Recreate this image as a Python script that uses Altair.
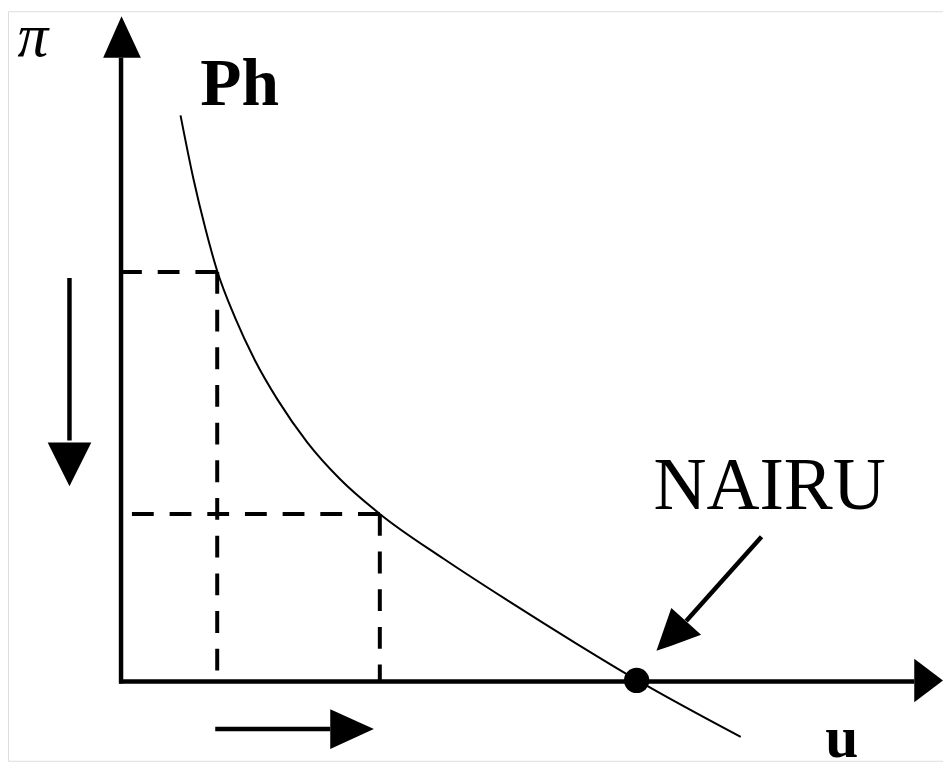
import altair as alt
import pandas as pd

# Diagram units: u = unemployment (x), pi = inflation (y); origin at the axes' corner.
curve_u = [60, 73, 85, 97, 115, 135, 158, 188, 221, 261, 325, 391, 458, 521, 625]
curve_pi = [571, 507, 457, 414, 367, 324, 284, 241, 204, 169, 124, 81, 39, 1, -56]

# dashed guide lines (corner on the curve -> axis)
guide_u = [97, 261]
guide_pi = [413, 169]
axis_stub = -5

# arrow shafts: (u, pi) -> (u2, pi2)
shaft_u = [0, -2, -52, 95, 646]
shaft_pi = [-2, 0, 407, -48, 146]
shaft_u2 = [0, 800, -52, 211, 570]
shaft_pi2 = [629, 0, 243, -48, 61]

# arrow heads drawn as areas
# horizontal orientation (vary along pi): id, pi, u_left, u_right
headH_id = ["yaxis", "yaxis", "down", "down"]
headH_pi = [671, 629, 197, 241]
headH_u = [0.5, -18, -52, -74]
headH_u2 = [0.5, 20, -52, -30]
# vertical orientation (vary along u): id, u, pi_low, pi_high
headV_id = ["xaxis", "xaxis", "right", "right", "nairu", "nairu", "nairu"]
headV_u = [800, 829, 211, 255, 540, 555, 585]
headV_pi = [-21, 1, -68, -48, 31, 36, 47]
headV_pi2 = [23, 1, -28, -48, 31, 74, 47]

# NAIRU point
nairu_u = [520]
nairu_pi = [1]

# labels
lab_pi = {"text": "π", "u": -89, "pi": 631}
lab_ph = {"text": "Ph", "u": 80, "pi": 581}
lab_nairu = {"text": "NAIRU", "u": 537, "pi": 174}
lab_uu = {"text": "u", "u": 727, "pi": -76}

W, H = 943, 756
xs = alt.Scale(domain=[-114, 829], nice=False, zero=False)
ys = alt.Scale(domain=[-80, 676], nice=False, zero=False)
X = lambda f: alt.X(f, type="quantitative", scale=xs, axis=None)
Y = lambda f: alt.Y(f, type="quantitative", scale=ys, axis=None)

curve_df = pd.DataFrame({"u": curve_u, "pi": curve_pi})
curve = alt.Chart(curve_df).mark_line(
    color="black", strokeWidth=2, interpolate="monotone"
).encode(x=X("u"), y=Y("pi"))

hd = pd.DataFrame({"u": guide_u, "u2": [axis_stub] * 2, "pi": guide_pi})
hdash = alt.Chart(hd).mark_rule(
    color="black", strokeWidth=4, strokeDash=[22, 16]
).encode(x=X("u"), x2="u2", y=Y("pi"))

vd = pd.DataFrame({"u": guide_u, "pi": guide_pi, "pi2": [0] * 2})
vdash = alt.Chart(vd).mark_rule(
    color="black", strokeWidth=4, strokeDash=[22, 16]
).encode(x=X("u"), y=Y("pi"), y2="pi2")

sd = pd.DataFrame({"u": shaft_u, "pi": shaft_pi, "u2": shaft_u2, "pi2": shaft_pi2})
shafts = alt.Chart(sd).mark_rule(color="black", strokeWidth=4.5).encode(
    x=X("u"), y=Y("pi"), x2="u2", y2="pi2"
)

hh = pd.DataFrame({"id": headH_id, "pi": headH_pi, "u": headH_u, "u2": headH_u2})
headsH = alt.Chart(hh).mark_area(
    color="black", orient="horizontal", interpolate="linear"
).encode(y=Y("pi"), x=X("u"), x2="u2", detail="id:N")

hv = pd.DataFrame({"id": headV_id, "u": headV_u, "pi": headV_pi, "pi2": headV_pi2})
headsV = alt.Chart(hv).mark_area(
    color="black", orient="vertical", interpolate="linear"
).encode(x=X("u"), y=Y("pi"), y2="pi2", detail="id:N")

dot = alt.Chart(pd.DataFrame({"u": nairu_u, "pi": nairu_pi})).mark_point(
    shape="circle", filled=True, color="black", opacity=1, size=650
).encode(x=X("u"), y=Y("pi"))


def label(d, size, weight="normal", style="normal", align="left"):
    return alt.Chart(pd.DataFrame([d])).mark_text(
        font="Liberation Serif", fontSize=size, fontWeight=weight,
        fontStyle=style, align=align, baseline="alphabetic", color="black"
    ).encode(x=X("u"), y=Y("pi"), text="text:N")


texts = [
    label(lab_pi, 62, style="italic", align="center"),
    label(lab_ph, 68, weight="bold"),
    label(lab_nairu, 74),
    label(lab_uu, 60, weight="bold", align="center"),
]

chart = alt.layer(hdash, vdash, curve, shafts, headsH, headsV, dot, *texts).properties(
    width=W, height=H, padding=0,
    autosize=alt.AutoSizeParams(type="none"),
).configure_view(strokeWidth=0, stroke="transparent").configure(background="white")

chart.save("out.html", embed_options={"renderer": "svg", "actions": False})
